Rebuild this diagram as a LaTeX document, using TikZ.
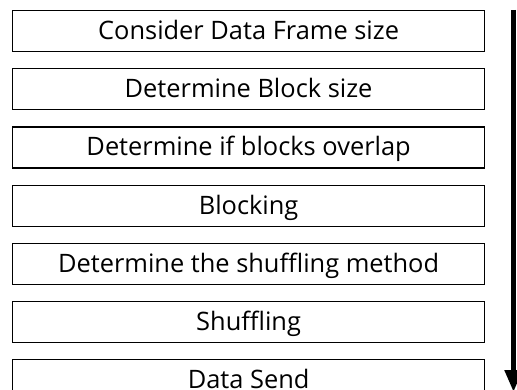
\documentclass[tikz,border=0pt]{standalone}
\usepackage{fontspec}
\setmainfont{Open Sans}
\usetikzlibrary{positioning,arrows.meta}

\tikzset{
  stage/.style={draw, line width=1.2pt, minimum width=472pt, minimum height=41pt,
    inner sep=0pt, text height=17pt, text depth=0pt,
    font=\fontsize{25.4}{25.4}\selectfont}
}

\begin{document}
\begin{tikzpicture}[x=1pt,y=1pt]
  \useasboundingbox (0,0) rectangle (517,-390);

  % steps
  \node[stage, anchor=north west] (consider) at (12,-10) {Consider Data Frame size};
  \node[stage, below=16pt of consider] (blocksize) {Determine Block size};
  \node[stage, below=16pt of blocksize] (overlap) {Determine if blocks overlap};
  \node[stage, below=16pt of overlap] (blocking) {Blocking};
  \node[stage, below=16pt of blocking] (method) {Determine the shuffling method};
  \node[stage, below=16pt of method] (shuffling) {Shuffling};
  \node[stage, below=16pt of shuffling] (send) {Data Send};

  % flow direction
  \coordinate (flowtop) at (513.5,-10);
  \coordinate (flowend) at (513.5,-392);
  \draw[line width=5pt, -{Triangle[width=17pt,length=22pt]}] (flowtop) -- (flowend);
\end{tikzpicture}
\end{document}
